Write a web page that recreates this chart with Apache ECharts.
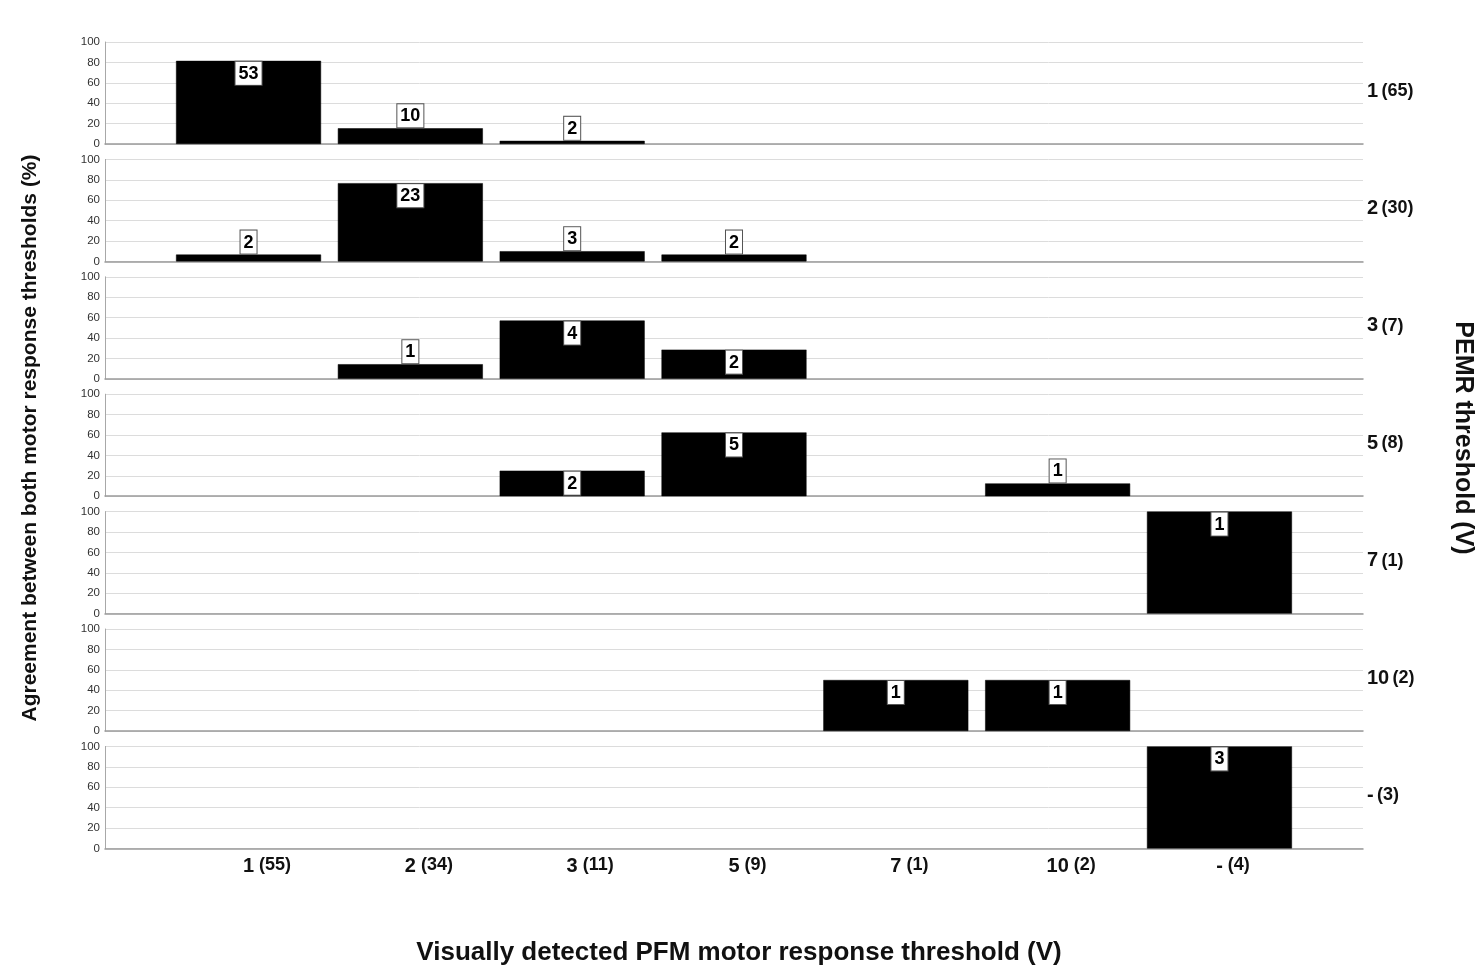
<!DOCTYPE html>
<html>
<head>
<meta charset="utf-8">
<script src="https://cdn.jsdelivr.net/npm/echarts@6/dist/echarts.min.js"></script>
<style>html,body{margin:0;padding:0;background:#fff;}#c{width:1481px;height:974px;}</style>
</head>
<body>
<div id="c"></div>
<script>
// Visually detected threshold categories (x axis)
const xMain = ['1', '2', '3', '5', '7', '10', '-'];
const xN = [55, 34, 11, 9, 1, 2, 4];
// PEMR threshold rows (right labels)
const rowMain = ['1', '2', '3', '5', '7', '10', '-'];
const rowN = [65, 30, 7, 8, 1, 2, 3];
// per row: [x category index, percentage, count]
const row1 = [[0, 81.5, 53], [1, 15.4, 10], [2, 3.1, 2]];
const row2 = [[0, 6.7, 2], [1, 76.7, 23], [2, 10.0, 3], [3, 6.7, 2]];
const row3 = [[1, 14.3, 1], [2, 57.1, 4], [3, 28.6, 2]];
const row4 = [[2, 25.0, 2], [3, 62.5, 5], [5, 12.5, 1]];
const row5 = [[6, 100, 1]];
const row6 = [[4, 50, 1], [5, 50, 1]];
const row7 = [[6, 100, 3]];
const rows = [row1, row2, row3, row4, row5, row6, row7];
const yTicks = [0, 20, 40, 60, 80, 100];

const FONT = '"Liberation Sans", Arial, sans-serif';
const gridLeft = 105, gridRight = 118, firstTop = 42, pitch = 117.4, panelH = 102;
const xMin = -0.887, xMax = 6.887;

const grids = [], xAxes = [], yAxes = [], series = [], graphics = [];
rows.forEach((rd, i) => {
  const top = firstTop + i * pitch;
  grids.push({ left: gridLeft, right: gridRight, top: top, height: panelH });
  const last = i === rows.length - 1;
  xAxes.push({
    type: 'value', gridIndex: i, min: xMin, max: xMax,
    axisLine: { show: true, onZero: false, lineStyle: { color: '#9a9a9a', width: 1.5 } },
    axisTick: { show: false },
    splitLine: { show: false },
    axisLabel: last ? {
      show: true, margin: 8, customValues: [0, 1, 2, 3, 4, 5, 6],
      formatter: v => {
        const k = Math.round(v);
        return '{h|(' + xN[k] + ')}{s| }{a|' + xMain[k] + '}{s| }{b|(' + xN[k] + ')}';
      },
      rich: {
        h: { fontFamily: FONT, fontWeight: 'bold', fontSize: 18, color: 'rgba(0,0,0,0)' },
        s: { fontFamily: FONT, fontWeight: 'bold', fontSize: 18, color: 'rgba(0,0,0,0)' },
        a: { fontFamily: FONT, fontWeight: 'bold', fontSize: 20, color: '#111' },
        b: { fontFamily: FONT, fontWeight: 'bold', fontSize: 18, color: '#111', verticalAlign: 'bottom', padding: [0, 0, 3, 0] }
      }
    } : { show: false }
  });
  yAxes.push({
    type: 'value', gridIndex: i, min: yTicks[0], max: yTicks[yTicks.length - 1], interval: 20,
    axisLine: { show: true, onZero: false, lineStyle: { color: '#a8a8a8', width: 1 } },
    axisTick: { show: false },
    splitLine: { show: true, lineStyle: { color: '#dcdcdc', width: 1 } },
    axisLabel: { fontFamily: FONT, fontSize: 11.5, color: '#333', margin: 5 }
  });
  series.push({
    type: 'bar', xAxisIndex: i, yAxisIndex: i, barWidth: 145,
    encode: { x: 0, y: 1 },
    itemStyle: { color: '#000', borderColor: '#000', borderWidth: 0.5 },
    data: rd.map(d => ({
      value: d,
      label: {
        show: true,
        position: d[1] > 20 ? 'insideTop' : 'top',
        distance: 1,
        formatter: p => String(p.value[2]),
        fontFamily: FONT, fontWeight: 'bold', fontSize: 18, color: '#000',
        backgroundColor: '#fff', borderColor: '#555', borderWidth: 1,
        padding: [3, 3, 2, 3]
      }
    }))
  });
  graphics.push({
    type: 'text', left: 1367, top: top + panelH / 2 - 12,
    style: {
      text: '{a|' + rowMain[i] + '} {b|(' + rowN[i] + ')}',
      rich: {
        a: { fontFamily: FONT, fontWeight: 'bold', fontSize: 20, fill: '#111', color: '#111' },
        b: { fontFamily: FONT, fontWeight: 'bold', fontSize: 18, fill: '#111', color: '#111' }
      }
    }
  });
});

graphics.push({
  type: 'text', x: 30, y: 438, rotation: Math.PI / 2,
  style: { text: 'Agreement between both motor response thresholds (%)', fontFamily: FONT, fontWeight: 'bold', fontSize: 21, fill: '#111', align: 'center', verticalAlign: 'middle' }
});
graphics.push({
  type: 'text', x: 1463, y: 438, rotation: -Math.PI / 2,
  style: { text: 'PEMR threshold (V)', fontFamily: FONT, fontWeight: 'bold', fontSize: 25, fill: '#111', align: 'center', verticalAlign: 'middle' }
});
graphics.push({
  type: 'text', x: 739, y: 953,
  style: { text: 'Visually detected PFM motor response threshold (V)', fontFamily: FONT, fontWeight: 'bold', fontSize: 26, fill: '#111', align: 'center', verticalAlign: 'middle' }
});

const chart = echarts.init(document.getElementById('c'), null, { renderer: 'canvas' });
chart.setOption({
  animation: false,
  backgroundColor: '#fff',
  grid: grids, xAxis: xAxes, yAxis: yAxes, series: series, graphic: graphics
});
</script>
</body>
</html>
